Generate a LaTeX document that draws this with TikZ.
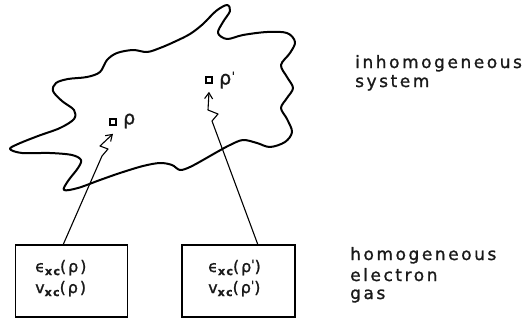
\documentclass[tikz,border=0pt]{standalone}
\usepackage{fontspec}
\setmainfont{DejaVu Sans}
\newfontfamily\labelfont[LetterSpace=15,FakeBold=1.2]{DejaVu Sans}
\newfontfamily\boxfont[LetterSpace=12,FakeBold=1.2]{DejaVu Sans}
\newfontfamily\rhofont[FakeBold=1.2]{DejaVu Sans}
\usetikzlibrary{arrows.meta}
% subscript "xc" in the boxes
\newcommand{\xcsub}{\raisebox{-0.35ex}{\fontsize{11}{11}\selectfont\bfseries xc}}
\newcommand{\primemark}{\raisebox{0.4ex}{\fontsize{12}{12}\selectfont '}}
\tikzset{
  outline/.style={line width=2pt, line join=round},
  gasbox/.style={draw, line width=1.9pt},
  pointer/.style={line width=1.1pt, line join=round,
    -{Straight Barb[length=6pt,width=8pt,line width=1.1pt]}},
  cell/.style={draw, line width=1.6pt, minimum size=6pt, inner sep=0pt},
  sidelabel/.style={anchor=base west, inner sep=0pt,
    font=\labelfont\fontsize{17}{17}\selectfont, text=black!90},
  entry/.style={anchor=base west, inner sep=0pt,
    font=\boxfont\fontsize{16}{16}\selectfont, text=black!90},
  rholabel/.style={anchor=west, inner sep=0pt,
    font=\rhofont\fontsize{19}{19}\selectfont, text=black!90},
}
\begin{document}
\begin{tikzpicture}[x=1pt,y=-1pt]
\useasboundingbox (0,0) rectangle (524,322);

% inhomogeneous system: irregular outline
\draw[outline] plot[smooth cycle, tension=0.55] coordinates {
  (10,149) (18,144) (38,136) (60,128) (74,119) (74,110) (62,101) (53,91)
  (56,83) (68,79) (87,77) (100,72) (107,60) (117,53) (133,50) (147,52)
  (160,48) (174,42) (190,34) (203,24) (216,11) (227,5) (230,11) (223,22)
  (218,33) (227,39) (243,35) (267,32) (287,33) (295,42) (290,53) (281,65)
  (287,77) (293,88) (287,98) (281,108) (287,119) (292,132) (285,142)
  (270,147) (257,143) (243,140) (230,145) (217,152) (203,160) (190,167)
  (180,170) (172,165) (160,163) (143,166) (120,173) (100,180) (78,188)
  (64,190) (68,181) (78,168) (81,160) (72,155) (50,153) (22,153)
};

% points of the system
\node[cell] (p1) at (113,122) {};
\node[rholabel] (l1) at (123,121) {ρ};
\node[cell] (p2) at (209,80) {};
\node[rholabel] (l2) at (219,80) {ρ\kern0.5pt\primemark};

% homogeneous electron gas boxes
\node[gasbox, minimum width=112pt, minimum height=72pt, inner sep=0pt]
  (b1) at (71.5,281) {};
\node[gasbox, minimum width=113pt, minimum height=72pt, inner sep=0pt]
  (b2) at (238.5,281) {};

\node[entry] (e1) at (35,272) {ϵ\xcsub(ρ)};
\node[entry] (v1) at (35,293) {v\xcsub(ρ)};
\node[entry] (e2) at (208,272) {ϵ\xcsub(ρ\primemark)};
\node[entry] (v2) at (208,293) {v\xcsub(ρ\primemark)};

% connectors from the boxes up to the points
\coordinate (s1) at (63,245);
\coordinate (s2) at (258,245);
\coordinate (t1) at ([yshift=-8pt]p1.south);
\coordinate (t2) at ([yshift=-8pt]p2.south);
\draw[pointer] (s1) -- (102,156) -- (108,149) -- (100,146) -- (t1);
\draw[pointer] (s2) -- (212,121) -- (218,114) -- (208,110) -- (t2);

% side labels
\node[sidelabel] (n1) at (355,68) {inhomogeneous};
\node[sidelabel] (n2) at (355,87) {system};
\node[sidelabel] (n3) at (350,260) {homogeneous};
\node[sidelabel] (n4) at (350,281) {electron};
\node[sidelabel] (n5) at (350,299) {gas};
\end{tikzpicture}
\end{document}
